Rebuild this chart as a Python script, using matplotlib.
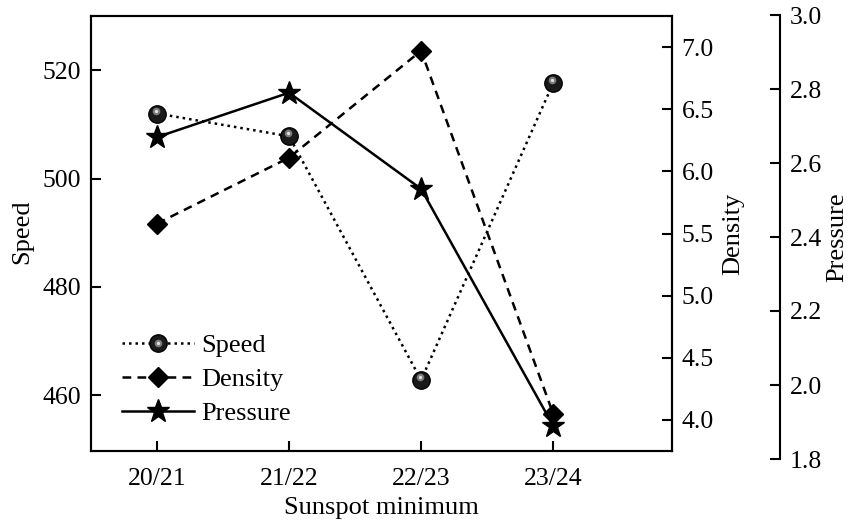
import matplotlib
matplotlib.use("Agg")
import matplotlib.pyplot as plt
import matplotlib.transforms as mtransforms

plt.rcParams['font.family'] = ['Liberation Serif', 'DejaVu Serif']
plt.rcParams['font.size'] = 19

minima = ["20/21", "21/22", "22/23", "23/24"]
speed = [512.0, 507.8, 462.8, 517.6]
density = [5.58, 6.11, 6.97, 4.05]
pressure = [2.67, 2.79, 2.53, 1.89]

xs = list(range(len(minima)))

fig = plt.figure(figsize=(8.48, 5.2), dpi=100)

# main axes box (speed on the left, density on the right)
left, width = 91 / 848, 581 / 848
ax = fig.add_axes([left, 69 / 520, width, 435 / 520])
ax2 = ax.twinx()
# pressure axis sits further right and is a bit taller
ax3 = fig.add_axes([left, 61 / 520, width, 444 / 520])
ax3.patch.set_visible(False)
for s in ["left", "top", "bottom"]:
    ax3.spines[s].set_visible(False)
ax3.spines["right"].set_position(("axes", (780 - 91) / 581))
ax3.yaxis.set_ticks_position("right")
ax3.yaxis.set_label_position("right")
ax3.set_xticks([])

for a in (ax, ax2, ax3):
    a.set_xlim(-0.5, 3.9)
    for sp in a.spines.values():
        sp.set_linewidth(1.5)
    a.tick_params(direction="in", length=7, width=1.5, pad=7, labelsize=18.5)

ax.set_ylim(449.7, 530)
ax2.set_ylim(3.75, 7.25)
ax3.set_ylim(1.8, 3.0)

ax.set_yticks([460, 480, 500, 520])
ax2.set_yticks([4.0, 4.5, 5.0, 5.5, 6.0, 6.5, 7.0])
ax2.set_yticklabels([f"{v:.1f}" for v in ax2.get_yticks()])
ax3.set_yticks([1.8, 2.0, 2.2, 2.4, 2.6, 2.8, 3.0])
ax3.set_yticklabels([f"{v:.1f}" for v in ax3.get_yticks()])
ax.set_xticks(xs)
ax.set_xticklabels(minima)
ax.tick_params(axis="x", pad=12)

# speed: shaded spheres on a dotted line
l1, = ax.plot(xs, speed, linestyle=(0, (1, 1.6)), color="black", linewidth=1.8,
              marker="o", markersize=12.5, markerfacecolor="#1a1a1a",
              markeredgecolor="black", zorder=3)
shine = mtransforms.offset_copy(ax.transData, fig=fig, x=-0.5, y=2.0, units="points")
g1, = ax.plot(xs, speed, linestyle="none", marker="o", markersize=5.5,
              markerfacecolor="#7a7a7a", markeredgecolor="none", transform=shine, zorder=4)
g2, = ax.plot(xs, speed, linestyle="none", marker="o", markersize=2.4,
              markerfacecolor="#e0e0e0", markeredgecolor="none", transform=shine, zorder=5)

l2, = ax2.plot(xs, density, linestyle=(0, (3.5, 2.5)), color="black", linewidth=1.8,
               marker="D", markersize=10.5, markerfacecolor="black",
               markeredgecolor="black")
l3, = ax3.plot(xs, pressure, linestyle="-", color="black", linewidth=1.8,
               marker="*", markersize=17, markerfacecolor="black",
               markeredgecolor="black")

ax.set_xlabel("Sunspot minimum", fontsize=19)
ax.xaxis.set_label_coords(0.5, -0.105)
ax.set_ylabel("Speed", fontsize=19)
ax.yaxis.set_label_coords(-0.1, 0.505)
ax2.set_ylabel("Density", fontsize=19)
ax3.set_ylabel("Pressure", fontsize=19)
ax2.yaxis.set_label_coords(1.086, 0.5)
ax3.yaxis.set_label_coords(1.266, 0.5)

ax.legend([(l1, g1, g2), l2, l3], ["Speed", "Density", "Pressure"], loc="lower left",
          bbox_to_anchor=(0.036, 0.035), frameon=False, handlelength=2.7,
          handletextpad=0.3, labelspacing=0.4, fontsize=19, borderaxespad=0)

fig.savefig("out.png", dpi=100)
